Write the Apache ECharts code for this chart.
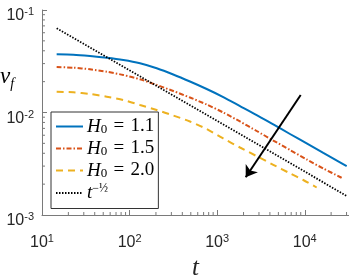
<!DOCTYPE html>
<html><head><meta charset="utf-8">
<script src="https://cdn.jsdelivr.net/npm/echarts@6/dist/echarts.min.js"></script>
<style>html,body{margin:0;padding:0;background:#fff}#c{width:349px;height:276px}</style>
</head><body><div id="c"></div>
<script>
// ---- data ----
const tGrid = [14.7, 22.8, 35.3, 54.8, 84.8, 131.5, 204, 315, 489, 759, 1174, 1822, 2826, 4372, 6783, 10520, 16280, 25250, 30110];
const vBlue = [0.03697, 0.03664, 0.03558, 0.03424, 0.03253, 0.03020, 0.02699, 0.02348, 0.02006, 0.01696, 0.01416, 0.01157, 0.00945, 0.00764, 0.00617, 0.004985, 0.00403, 0.003267, 0.003006];
const tRed = [14.7, 22.8, 35.3, 54.8, 84.8, 131.5, 204, 315, 489, 759, 1174, 1822, 2826, 4372, 6783, 10520, 16280, 25250, 27540];
const vRed = [0.02779, 0.02736, 0.02639, 0.02500, 0.02322, 0.02108, 0.01855, 0.01621, 0.01400, 0.01197, 0.01000, 0.00817, 0.00660, 0.00533, 0.00431, 0.00348, 0.002842, 0.002348, 0.002245];
const tYel = [14.7, 22.8, 35.3, 54.8, 84.8, 131.5, 204, 315, 489, 759, 1174, 1822, 2826, 4372, 6783, 9620, 13670];
const vYel = [0.01595, 0.01574, 0.01515, 0.01426, 0.01324, 0.01184, 0.01058, 0.00935, 0.00817, 0.00690, 0.00558, 0.004555, 0.00375, 0.00309, 0.00255, 0.002195, 0.001855];
const tRef = [14.7, 3516, 30110];
const vRef = [0.0663, 0.004465, 0.001532];
const arrowFrom = [8985, 0.01482];
const arrowTo = [2117, 0.002332];
const seriesNames = ['H0 = 1.1', 'H0 = 1.5', 'H0 = 2.0', 't^-1/2'];
const xTicks = [10, 100, 1000, 10000];
const yTicks = [0.001, 0.01, 0.1];
const minorMult = [2, 3, 4, 5, 6, 7, 8, 9];

const zip = (a, b) => a.map((x, i) => [x, b[i]]);
const chart = echarts.init(document.getElementById('c'), null, {renderer: 'canvas'});

// minor tick values (axis decoration) built from the decade ticks
const xMinor = [];
xTicks.forEach(d => minorMult.forEach(m => { if (d * m <= 32000) xMinor.push(d * m); }));
const yMinor = [];
yTicks.slice(0, 2).forEach(d => minorMult.forEach(m => yMinor.push(d * m)));

function expLabel(list) {
  return function (v) {
    const hit = list.find(t => Math.abs(Math.log10(t) - Math.log10(v)) < 1e-6);
    if (hit === undefined) return '';
    return '{b|10}{sup|' + Math.round(Math.log10(hit)) + '}';
  };
}
const labelRich = {
  b: {fontFamily: 'Liberation Sans', fontSize: 16, color: '#262626', padding: [12, 0, 0, 0]},
  sup: {fontFamily: 'Liberation Sans', fontSize: 11, color: '#262626', padding: [4, 0, 0, 0]}
};
const serif = 'Liberation Serif';
const legendRich = {
  i: {fontFamily: serif, fontStyle: 'italic', fontSize: 19, color: '#000'},
  s: {fontFamily: serif, fontSize: 13, color: '#000', padding: [6, 0, 0, 0]},
  n: {fontFamily: serif, fontSize: 19, color: '#000'},
  sup: {fontFamily: serif, fontSize: 12, color: '#000', padding: [0, 0, 8, 0]}
};
function legendFmt(name) {
  if (name.startsWith('H0')) return '{i|H}{s|0}{n|\u2004=\u2004' + name.split('= ')[1] + '}';
  return '{i|t}{sup|−½}';
}
const axisCol = '#7a7a7a';
const tickSeries = (vals, isX) => ({
  type: 'custom', silent: true, z: 1, clip: false,
  data: vals.map(v => isX ? [v, yTicks[0]] : [xTicks[0], v]),
  renderItem: function (params, api) {
    const p = api.coord([api.value(0), api.value(1)]);
    const shape = isX ? {x1: p[0], y1: p[1], x2: p[0], y2: p[1] - 3}
                      : {x1: p[0], y1: p[1], x2: p[0] + 3, y2: p[1]};
    return {type: 'line', shape: shape, style: {stroke: axisCol, lineWidth: 1}};
  }
});
const option = {
  animation: false,
  grid: {left: 42, right: 0, top: 10, bottom: 61, containLabel: false, outerBoundsMode: 'none'},
  xAxis: {
    type: 'log', logBase: 10, min: 10, max: 32000,
    axisLine: {show: true, lineStyle: {color: axisCol, width: 1}},
    axisTick: {show: true, inside: true, length: 5, lineStyle: {color: axisCol}},
    splitLine: {show: false},
    axisLabel: {formatter: expLabel(xTicks), rich: labelRich, margin: 8, showMaxLabel: false},
    name: 't', nameLocation: 'middle', nameGap: 38,
    nameTextStyle: {fontFamily: serif, fontStyle: 'italic', fontSize: 25, color: '#262626'}
  },
  yAxis: {
    type: 'log', logBase: 10, min: 0.001, max: 0.1,
    axisLine: {show: true, lineStyle: {color: axisCol, width: 1}},
    axisTick: {show: true, inside: true, length: 5, lineStyle: {color: axisCol}},
    splitLine: {show: false},
    axisLabel: {formatter: expLabel(yTicks), rich: labelRich, margin: 8}
  },
  graphic: [{
    type: 'text', left: 0, top: 65,
    style: {
      text: '{i|v}{s|f}',
      rich: {
        i: {fontFamily: serif, fontStyle: 'italic', fontSize: 23, color: '#262626'},
        s: {fontFamily: serif, fontStyle: 'italic', fontSize: 14, color: '#262626', padding: [16, 0, 0, 0]}
      }
    }
  }],
  legend: {
    orient: 'vertical', left: 51, top: 112,
    padding: [5, 4, 6, 4], itemGap: 3, itemWidth: 27, itemHeight: 14,
    backgroundColor: '#fff', borderColor: '#333', borderWidth: 1,
    data: seriesNames, formatter: legendFmt,
    itemStyle: {color: 'transparent', borderColor: 'transparent', borderWidth: 0},
    textStyle: {rich: legendRich, padding: [0, 0, 0, -1]}
  },
  series: [
    {name: seriesNames[0], type: 'line', data: zip(tGrid, vBlue), symbol: 'none', smooth: 0.25,
     lineStyle: {color: '#0072BD', width: 2}, itemStyle: {color: '#0072BD'}, z: 4},
    {name: seriesNames[1], type: 'line', data: zip(tRed, vRed), symbol: 'none', smooth: 0.25,
     lineStyle: {color: '#D95319', width: 2, type: [5, 2, 1.5, 2]}, itemStyle: {color: '#D95319'}, z: 3},
    {name: seriesNames[2], type: 'line', data: zip(tYel, vYel), symbol: 'none', smooth: 0.25,
     lineStyle: {color: '#EDB120', width: 2, type: [7, 5]}, itemStyle: {color: '#EDB120'}, z: 2},
    {name: seriesNames[3], type: 'line', data: zip(tRef, vRef), symbol: 'none',
     lineStyle: {color: '#000', width: 1.8, type: [1.5, 1.5]}, itemStyle: {color: '#000'}, z: 5,
     markLine: {
       silent: true, symbol: ['none', 'arrow'], symbolSize: 11,
       label: {show: false},
       lineStyle: {color: '#000', width: 2, type: 'solid'},
       data: [[{coord: arrowFrom}, {coord: arrowTo}]]
     }},
    tickSeries(xMinor, true),
    tickSeries(yMinor, false)
  ]
};
chart.setOption(option);
</script></body></html>
